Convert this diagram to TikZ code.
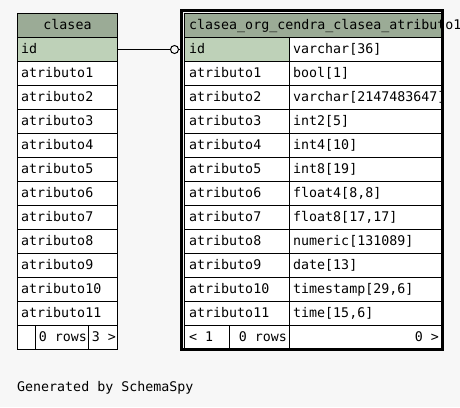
\documentclass[tikz,border=0pt]{standalone}
\usepackage{fontspec}
\newfontfamily\monofam{DejaVu Sans Mono}
\newcommand{\mono}{\monofam\fontsize{13.3}{16}\selectfont}
\definecolor{bgc}{HTML}{F7F7F7}
\definecolor{hdrc}{HTML}{9BAB96}
\definecolor{keyc}{HTML}{BED1B8}
\tikzset{
  cellbox/.style={draw=black, line width=1pt, inner sep=0pt, outer sep=0pt, anchor=north west, minimum height=24pt},
  txt/.style={anchor=base west, inner sep=0pt, font=\mono},
  txtr/.style={anchor=base east, inner sep=0pt, font=\mono},
  txtc/.style={anchor=base, inner sep=0pt, font=\mono},
}
\begin{document}
\begin{tikzpicture}[x=1pt,y=-1pt]
\useasboundingbox (0,0) rectangle (460,407);
\fill[bgc] (0,0) rectangle (460,407);
% ---------- left table: clasea ----------
\node[cellbox, fill=hdrc, minimum width=100pt] (lhead) at (17.5,13.5) {};
\node[txtc] (lheadt) at (67.5,29.5) {clasea};
\node[cellbox, fill=keyc, minimum width=100pt] (lid) at (17.5,37.5) {};
\node[txt] (lidt) at (21,53.5) {id};
\foreach \i in {1,...,11}{
  \node[cellbox, fill=white, minimum width=100pt] (l\i) at (17.5,{37.5+24*\i}) {};
  \node[txt] (l\i t) at (21,{53.5+24*\i}) {atributo\i};
}
\node[cellbox, fill=white, minimum width=18pt] (lf1) at (17.5,325.5) {};
\node[cellbox, fill=white, minimum width=53pt] (lf2) at (35.5,325.5) {};
\node[cellbox, fill=white, minimum width=29pt] (lf3) at (88.5,325.5) {};
\node[txtr] (lf2t) at (87,341.5) {0 rows};
\node[txtr] (lf3t) at (116,341.5) {3 >};
% ---------- right table ----------
\node[cellbox, fill=hdrc, minimum width=257pt] (rhead) at (184.5,13.5) {};
\node[txt] (rheadt) at (189,29.5) {clasea\_org\_cendra\_clasea\_atributo1};
\node[cellbox, fill=keyc, minimum width=105pt] (rid) at (184.5,37.5) {};
\node[cellbox, fill=white, minimum width=152pt] (ridT) at (289.5,37.5) {};
\node[txt] (ridt) at (189,53.5) {id};
\node[txt] (ridty) at (293,53.5) {varchar[36]};
\foreach \i/\ty in {1/{bool[1]},2/{varchar[2147483647]},3/{int2[5]},4/{int4[10]},5/{int8[19]},6/{float4[8,8]},7/{float8[17,17]},8/{numeric[131089]},9/{date[13]},10/{timestamp[29,6]},11/{time[15,6]}}{
  \node[cellbox, fill=white, minimum width=105pt] (r\i) at (184.5,{37.5+24*\i}) {};
  \node[cellbox, fill=white, minimum width=152pt] (r\i T) at (289.5,{37.5+24*\i}) {};
  \node[txt] (r\i t) at (189,{53.5+24*\i}) {atributo\i};
  \node[txt] (r\i ty) at (293,{53.5+24*\i}) {\ty};
}
\node[cellbox, fill=white, minimum width=45pt] (rf1) at (184.5,325.5) {};
\node[cellbox, fill=white, minimum width=60pt] (rf2) at (229.5,325.5) {};
\node[cellbox, fill=white, minimum width=152pt] (rf3) at (289.5,325.5) {};
\node[txt] (rf1t) at (189,341.5) {< 1};
\node[txtr] (rf2t) at (287,341.5) {0 rows};
\node[txtr] (rf3t) at (439,341.5) {0 >};
\node[draw=black, line width=3pt, inner sep=0pt, outer sep=0pt, anchor=north west, minimum width=261pt, minimum height=339pt] (rtab) at (181.5,10.5) {};
% ---------- connector ----------
\node[draw=black, fill=bgc, circle, line width=1pt, minimum size=8pt, inner sep=0pt] (circ) at (174.5,49.5) {};
\coordinate (tee) at (180.5,49.5);
\draw[line width=1pt] (lid.east) -- (circ.west);
\draw[line width=1pt] (circ.east) -- (tee);
\draw[line width=1pt] (180.5,45.5) -- (180.5,53.5);
% ---------- footer text ----------
\node[txt] (gen) at (17,391) {Generated by SchemaSpy};
\end{tikzpicture}
\end{document}
